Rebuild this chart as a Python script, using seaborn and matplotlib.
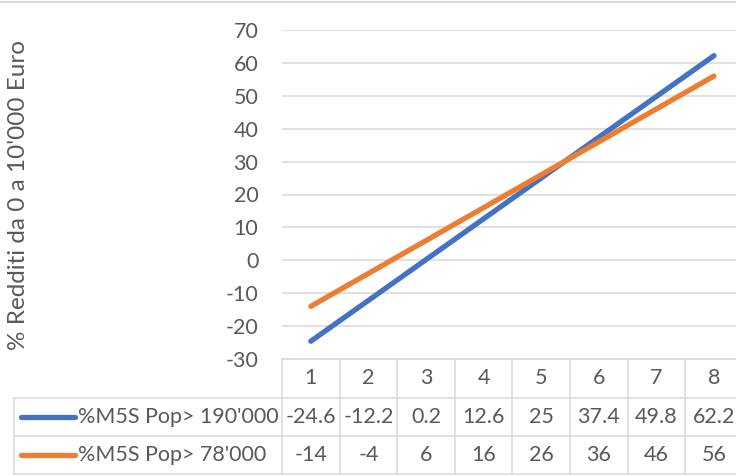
import matplotlib
matplotlib.use("Agg")
import matplotlib.pyplot as plt
import matplotlib.transforms as mtransforms
from matplotlib.lines import Line2D
import pandas as pd
import seaborn as sns

# Data
categories = [1, 2, 3, 4, 5, 6, 7, 8]
series_names = ["%M5S Pop> 190'000", "%M5S Pop> 78'000"]
pop_190k = [-24.6, -12.2, 0.2, 12.6, 25, 37.4, 49.8, 62.2]
pop_78k = [-14, -4, 6, 16, 26, 36, 46, 56]
value_labels = [
    ["-24.6", "-12.2", "0.2", "12.6", "25", "37.4", "49.8", "62.2"],
    ["-14", "-4", "6", "16", "26", "36", "46", "56"],
]
y_ticks = [-30, -20, -10, 0, 10, 20, 30, 40, 50, 60, 70]
y_label = "% Redditi da 0 a 10'000 Euro"

colors = ["#4472C4", "#ED7D31"]
text_color = "#595959"
grid_color = "#D9D9D9"
fs = 15.5

sns.set_theme(style="white")
plt.rcParams["font.family"] = ["Lato", "DejaVu Sans"]

df = pd.DataFrame({
    "x": categories * 2,
    "y": pop_190k + pop_78k,
    "serie": [series_names[0]] * len(categories) + [series_names[1]] * len(categories),
})

W, H = 736, 476
fig = plt.figure(figsize=(W / 100, H / 100), dpi=100)
left_px, right_px, top_px, bottom_px = 282, 742.8, 30, 359
ax = fig.add_axes([left_px / W, 1 - bottom_px / H,
                   (right_px - left_px) / W, (bottom_px - top_px) / H])

sns.lineplot(data=df, x="x", y="y", hue="serie", palette=colors,
             linewidth=3.8, ax=ax, legend=False)
for ln in ax.get_lines():
    ln.set_solid_capstyle("round")
    ln.set_clip_on(False)

ax.set_xlim(0.5, 8.5)
ax.set_ylim(-30, 70)
ax.set_yticks(y_ticks)
ax.set_yticklabels([str(v) for v in y_ticks], fontsize=fs, color=text_color)
ax.set_xticks([])
ax.set_xlabel("")
ax.set_ylabel("")
ax.tick_params(axis="y", length=0, pad=17)
for s in ax.spines.values():
    s.set_visible(False)
ax.grid(axis="y", color=grid_color, linewidth=1.1)
ax.set_axisbelow(True)

fig.text(19 / W, 1 - 195 / H, y_label, rotation=90, ha="center", va="center",
         fontsize=17.5, color=text_color)

# Data table below the plot
ax_h = bottom_px - top_px
def yfrac(px):
    return (bottom_px - px) / ax_h

blend = mtransforms.blended_transform_factory(ax.transData, ax.transAxes)
tbl_color = "#D9D9D9"
row_lines_px = [359, 398, 436, 474]
# horizontal lines
ax.plot([0.5, 8.5], [yfrac(359)] * 2, transform=blend, color=tbl_color, lw=1.1, clip_on=False)
for py in row_lines_px[1:]:
    fig.add_artist(Line2D([14 / W, 1.0], [1 - py / H] * 2, color=tbl_color, lw=1.1))
# vertical lines
for k in range(9):
    ax.plot([k + 0.5] * 2, [yfrac(359), yfrac(474)], transform=blend,
            color=tbl_color, lw=1.1, clip_on=False)
fig.add_artist(Line2D([14 / W] * 2, [1 - 398 / H, 1 - 474 / H], color=tbl_color, lw=1.1))

# header
for c in categories:
    ax.text(c, yfrac(378), str(c), transform=blend, ha="center", va="center",
            fontsize=fs, color=text_color)
# rows
row_centers = [417, 455]
for r, (name, labels) in enumerate(zip(series_names, value_labels)):
    yc = row_centers[r]
    for c, lab in zip(categories, labels):
        ax.text(c, yfrac(yc), lab, transform=blend, ha="center", va="center",
                fontsize=fs, color=text_color)
    fig.add_artist(Line2D([21 / W, 75 / W], [1 - yc / H] * 2, color=colors[r],
                          lw=3.8, solid_capstyle="round"))
    fig.text(78 / W, 1 - yc / H, name, ha="left", va="center",
             fontsize=fs, color=text_color)

# chart border at top
fig.add_artist(Line2D([0, 1], [1 - 1.5 / H] * 2, color=tbl_color, lw=1.5))

fig.savefig("out.png", dpi=100, facecolor="white")
